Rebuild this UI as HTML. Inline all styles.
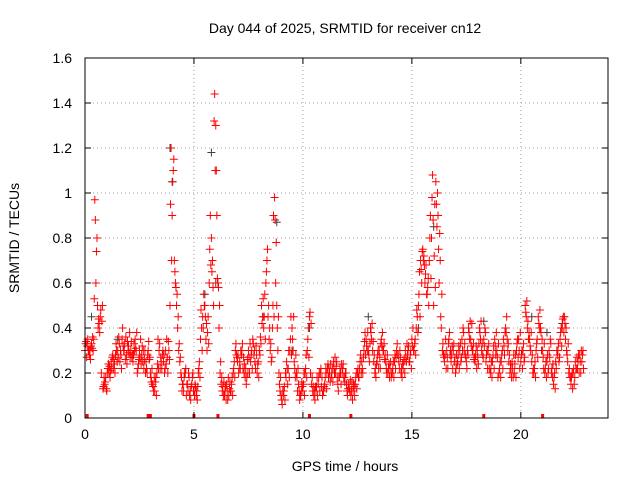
<!DOCTYPE html>
<html><head><meta charset="utf-8"><style>
body{margin:0;background:#fff}
svg{display:block;font-family:"Liberation Sans",sans-serif}
</style></head><body>
<svg id="chart" width="640" height="480">
<text x="345" y="33" font-size="14" text-anchor="middle">Day 044 of 2025, SRMTID for receiver cn12</text>
<text x="345" y="471" font-size="14" text-anchor="middle">GPS time / hours</text>
<text x="19" y="238" font-size="14" text-anchor="middle" transform="rotate(-90 19 238)">SRMTID / TECUs</text>
<g id="grid"></g><g id="marks"></g><g id="axes"></g>
</svg>
<script>
const xTicks=[0,5,10,15,20];
const yTicks=[0,0.2,0.4,0.6,0.8,1,1.2,1.4,1.6];
const yTickLabels=["0","0.2","0.4","0.6","0.8","1","1.2","1.4","1.6"];
const redA=[0.3,0.32,0.28,0.33,0.35,0.6,0.4,0.45,0.5,0.15,0.12,
0.2,0.25,0.22,0.28,0.3,0.25,0.35,0.3,0.28,0.32,
0.3,0.25,0.35,0.2,0.3,0.28,0.22,0.25,0.3,0.2,
0.15,0.12,0.2,0.3,0.25,0.25,0.3,0.2,0.5,0.9,
0.7,0.5,0.3,0.2,0.15,0.2,0.15,0.1,0.15,0.12,
0.1,0.2,0.35,0.45,0.5,0.3,0.6,0.8,0.5,1.3,
0.6,0.2,0.12,0.1,0.15,0.1,0.12,0.2,0.3,0.25,
0.25,0.3,0.2,0.15,0.3,0.25,0.35,0.25,0.2,0.3,
0.5,0.4,0.6,0.45,0.3,0.4,0.98,0.5,0.2,0.1,
0.1,0.2,0.15,0.3,0.4,0.25,0.2,0.15,0.1,0.12,
0.2,0.3,0.45,0.15,0.1,0.12,0.15,0.2,0.1,0.15,
0.2,0.22,0.18,0.25,0.2,0.15,0.22,0.2,0.18,0.15,
0.15,0.1,0.12,0.15,0.2,0.22,0.25,0.3,0.35,0.3,
0.4,0.3,0.2,0.25,0.3,0.35,0.3,0.25,0.2,0.22,
0.2,0.25,0.3,0.25,0.2,0.22,0.3,0.28,0.25,0.35,
0.3,0.4,0.5,0.7,0.75,0.6,0.55,0.7,0.8,0.5,
1.05,0.9,0.7,0.3,0.25,0.3,0.35,0.25,0.3,0.2,
0.25,0.3,0.35,0.3,0.25,0.4,0.35,0.3,0.25,0.3,
0.4,0.3,0.35,0.25,0.3,0.2,0.25,0.35,0.3,0.2,
0.25,0.35,0.4,0.3,0.2,0.25,0.2,0.3,0.35,0.25,
0.3,0.5,0.4,0.35,0.25,0.2,0.3,0.45,0.4,0.3,
0.2,0.25,0.3,0.2,0.15,0.25,0.3,0.35,0.4,0.45,
0.3,0.2,0.15,0.2,0.25,0.22,0.28,0.25];
const redB=[0.34,0.3,0.26,0.36,0.97,0.8,0.42,0.2,0.14,0.18,0.22,
0.18,0.27,0.24,0.3,0.36,0.28,0.32,0.26,0.34,0.38,
0.27,0.33,0.3,0.24,0.35,0.25,0.3,0.2,0.26,0.16,
0.12,0.18,0.35,0.22,0.28,0.2,0.35,0.3,1.2,1.1,
0.6,0.4,0.25,0.12,0.18,0.1,0.2,0.08,0.2,0.15,
0.08,0.25,0.4,0.55,0.35,0.45,0.9,0.7,1.44,0.9,
0.4,0.15,0.1,0.14,0.08,0.16,0.18,0.25,0.28,0.2,
0.3,0.22,0.18,0.26,0.2,0.3,0.28,0.32,0.25,0.36,
0.45,0.55,0.7,0.35,0.25,0.9,0.6,0.3,0.12,0.06,
0.14,0.25,0.3,0.45,0.3,0.18,0.12,0.08,0.16,0.2,
0.28,0.4,0.2,0.12,0.08,0.18,0.2,0.14,0.12,0.22,
0.24,0.16,0.22,0.2,0.25,0.18,0.15,0.24,0.2,0.1,
0.12,0.16,0.14,0.2,0.18,0.28,0.2,0.38,0.3,0.25,
0.35,0.25,0.18,0.3,0.22,0.38,0.26,0.2,0.24,0.18,
0.25,0.22,0.28,0.3,0.18,0.26,0.25,0.32,0.3,0.4,
0.35,0.45,0.65,0.6,0.72,0.68,0.62,0.9,1.08,0.95,
0.85,0.6,0.4,0.28,0.35,0.22,0.28,0.32,0.25,0.28,
0.32,0.25,0.4,0.28,0.3,0.35,0.42,0.26,0.32,0.24,
0.35,0.28,0.4,0.3,0.22,0.25,0.32,0.28,0.18,0.25,
0.3,0.28,0.45,0.25,0.22,0.18,0.28,0.35,0.22,0.3,
0.25,0.45,0.35,0.3,0.2,0.25,0.35,0.4,0.3,0.22,
0.25,0.2,0.35,0.18,0.2,0.3,0.25,0.4,0.45,0.35,
0.25,0.18,0.2,0.15,0.22,0.28,0.2,0.3];
const redC=[0.33,0.35,0.3,0.31,0.53,0.74,0.44,0.48,0.13,0.16,0.2,
0.23,0.22,0.26,0.33,0.27,0.3,0.4,0.33,0.24,0.29,
0.34,0.28,0.31,0.22,0.27,0.32,0.26,0.22,0.34,0.18,
0.14,0.16,0.24,0.33,0.22,0.28,0.24,0.34,0.95,1.05,
0.65,0.55,0.33,0.18,0.12,0.22,0.12,0.12,0.18,0.1,
0.12,0.22,0.48,0.4,0.45,0.38,0.75,0.65,1.32,1.1,
0.58,0.25,0.14,0.12,0.12,0.13,0.15,0.22,0.33,0.28,
0.22,0.33,0.24,0.18,0.27,0.28,0.33,0.22,0.24,0.28,
0.42,0.45,0.65,0.5,0.33,0.5,0.88,0.4,0.15,0.08,
0.12,0.18,0.22,0.35,0.35,0.22,0.18,0.12,0.12,0.15,
0.22,0.35,0.47,0.18,0.12,0.14,0.18,0.22,0.12,0.18,
0.22,0.2,0.2,0.22,0.23,0.12,0.2,0.22,0.16,0.12,
0.13,0.12,0.15,0.18,0.22,0.25,0.22,0.34,0.32,0.28,
0.38,0.34,0.22,0.28,0.27,0.32,0.33,0.22,0.22,0.25,
0.22,0.28,0.33,0.22,0.22,0.25,0.27,0.3,0.28,0.32,
0.33,0.48,0.55,0.66,0.7,0.64,0.58,0.8,0.98,0.72,
0.95,0.75,0.45,0.33,0.28,0.27,0.38,0.28,0.33,0.22,
0.28,0.33,0.3,0.33,0.22,0.38,0.32,0.33,0.28,0.27,
0.38,0.33,0.32,0.28,0.33,0.22,0.28,0.32,0.27,0.22,
0.28,0.32,0.38,0.33,0.24,0.22,0.24,0.33,0.3,0.28,
0.33,0.47,0.43,0.32,0.28,0.22,0.33,0.42,0.38,0.27,
0.22,0.28,0.27,0.22,0.18,0.22,0.33,0.38,0.44,0.42,
0.28,0.22,0.18,0.22,0.22,0.25,0.25,0.28];
const redD=[0.27,0.3,0.32,0.3,0.88,0.5,0.38,0.43,0.18,0.13,0.24,
0.21,0.28,0.2,0.25,0.33,0.22,0.3,0.36,0.3,0.27,
0.28,0.3,0.38,0.26,0.24,0.3,0.2,0.28,0.27,0.22,
0.18,0.1,0.22,0.27,0.3,0.22,0.27,0.26,0.7,1.15,
0.58,0.45,0.27,0.15,0.2,0.15,0.18,0.14,0.12,0.14,
0.14,0.18,0.3,0.5,0.42,0.33,0.68,0.58,1.1,0.62,
0.5,0.18,0.16,0.08,0.18,0.12,0.1,0.18,0.27,0.22,
0.28,0.27,0.22,0.2,0.33,0.22,0.3,0.28,0.18,0.33,
0.53,0.35,0.75,0.4,0.27,0.45,0.78,0.45,0.18,0.12,
0.08,0.22,0.18,0.28,0.45,0.28,0.22,0.1,0.14,0.1,
0.18,0.27,0.42,0.14,0.14,0.1,0.12,0.18,0.14,0.13,
0.18,0.24,0.16,0.27,0.18,0.18,0.24,0.18,0.2,0.13,
0.17,0.08,0.1,0.13,0.18,0.2,0.27,0.28,0.38,0.33,
0.42,0.28,0.24,0.22,0.33,0.3,0.28,0.28,0.18,0.2,
0.18,0.27,0.28,0.27,0.24,0.2,0.33,0.25,0.22,0.3,
0.28,0.38,0.45,0.74,0.68,0.55,0.5,0.62,0.88,0.58,
1.0,0.82,0.55,0.27,0.22,0.33,0.3,0.22,0.27,0.24,
0.22,0.27,0.38,0.27,0.28,0.43,0.3,0.27,0.22,0.33,
0.43,0.27,0.38,0.22,0.27,0.18,0.22,0.38,0.33,0.18,
0.22,0.38,0.35,0.28,0.18,0.28,0.18,0.27,0.38,0.22,
0.27,0.52,0.38,0.38,0.22,0.18,0.27,0.48,0.35,0.33,
0.18,0.22,0.33,0.24,0.13,0.28,0.27,0.32,0.38,0.4,
0.33,0.18,0.13,0.18,0.27,0.2,0.3,0.22];
const grayT=[0.3,1.5,3.9,4.0,5.5,5.8,6.0,8.2,8.8,9.5,10.3,13.0,15.3,16.0,18.3,20.5,21.2,21.9];
const grayV=[0.45,0.35,1.2,1.05,0.55,1.18,0.6,0.45,0.87,0.3,0.4,0.45,0.4,0.85,0.43,0.45,0.38,0.42];
const rugT=[0.1,2.9,3.0,5.0,6.1,10.3,12.2,18.3,21.0];

const L=85,R=608,T=58,B=418,XMAX=24,YMAX=1.6;
const xs=v=>L+v/XMAX*(R-L), ys=v=>B-v/YMAX*(B-T);
const NS="http://www.w3.org/2000/svg";
function mk(tag,parent,attrs){const e=document.createElementNS(NS,tag);for(const k in attrs)e.setAttribute(k,attrs[k]);parent.appendChild(e);return e;}
const grid=document.getElementById('grid'),marks=document.getElementById('marks'),axes=document.getElementById('axes');
xTicks.forEach(t=>{
 if(t>0){const g=mk('line',grid,{x1:xs(t),x2:xs(t),y1:T,y2:B,stroke:'#a0a0a0','stroke-dasharray':'1,3'});
 
 }
 const tk=mk('path',axes,{d:`M${xs(t)},${B}v-6M${xs(t)},${T}v6`,stroke:'#000'});
 
 
 const lb=mk('text',axes,{x:xs(t),y:B+21,'font-size':14,'text-anchor':'middle'});lb.textContent=t;
 
 
});
yTicks.forEach((t,i)=>{
 if(t>0){const g=mk('line',grid,{x1:L,x2:R,y1:ys(t),y2:ys(t),stroke:'#a0a0a0','stroke-dasharray':'1,3'});
 
 }
 const tk=mk('path',axes,{d:`M${L},${ys(t)}h6M${R},${ys(t)}h-6`,stroke:'#000'});
 
 
 const lb=mk('text',axes,{x:L-13,y:ys(t)+5,'font-size':14,'text-anchor':'end'});lb.textContent=yTickLabels[i];
 
 
});
const frame=mk('rect',axes,{x:L,y:T,width:R-L,height:B-T,fill:'none',stroke:'#000'});


function plus(t,v,c,name){const p=mk('path',marks,{d:`M${xs(t)-4},${ys(v)}h8M${xs(t)},${ys(v)-4}v8`,stroke:c,'stroke-width':1});
 
 }
grayT.forEach((t,i)=>plus(t,grayV[i],'#404040','gray-point'));
redA.forEach((v,i)=>plus(i*0.1,v,'#ff0000','red-point'));
redB.forEach((v,i)=>plus(i*0.1+0.05,v,'#ff0000','red-point'));
redC.forEach((v,i)=>plus(i*0.1+0.025,v,'#ff0000','red-point'));
redD.forEach((v,i)=>plus(i*0.1+0.075,v,'#ff0000','red-point'));
rugT.forEach(t=>{const r=mk('rect',marks,{x:xs(t)-1.5,y:B-4,width:3,height:4,fill:'#ff0000'});
 
 });
</script>
</body></html>
